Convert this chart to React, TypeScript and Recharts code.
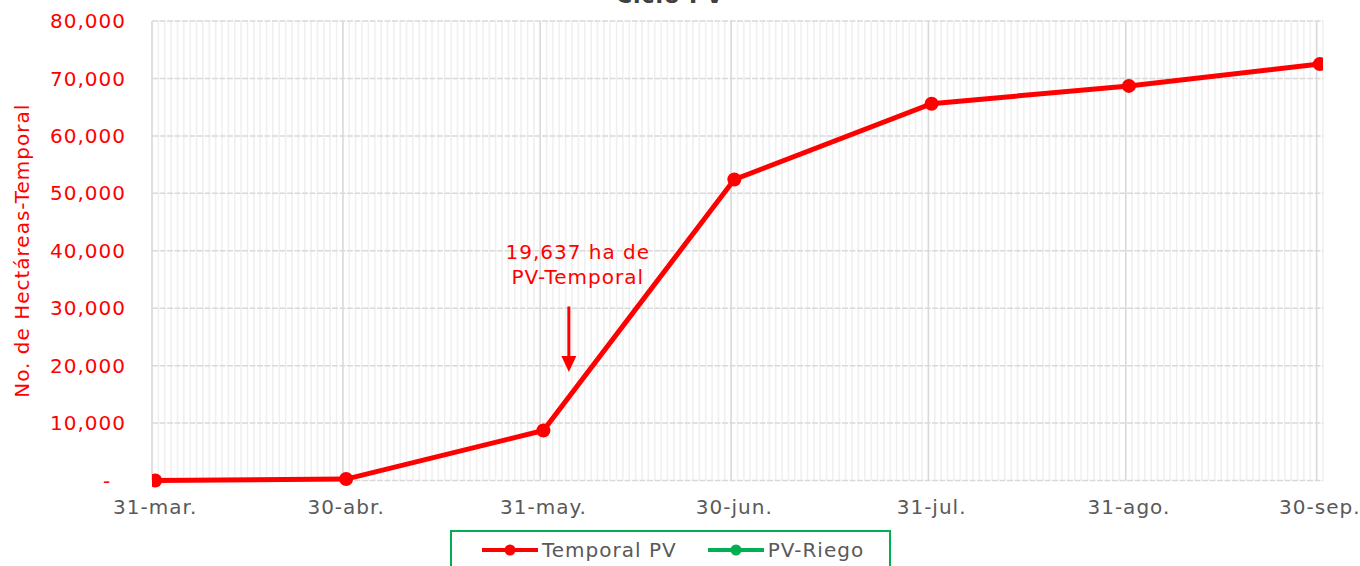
import React from 'react';
import {
  LineChart, Line, XAxis, YAxis, CartesianGrid, Legend, ReferenceLine, ReferenceDot,
} from 'recharts';

// Days counted from 31-mar.
const days = [0, 30, 61, 91, 122, 153, 183];
const dateLabels = ['31-mar.', '30-abr.', '31-may.', '30-jun.', '31-jul.', '31-ago.', '30-sep.'];
const temporalPV = [0, 250, 8700, 52400, 65600, 68700, 72500];
const pvRiego: (number | null)[] = [null, null, null, null, null, null, null];
const yTicks = [0, 10000, 20000, 30000, 40000, 50000, 60000, 70000, 80000];
const xDomain: [number, number] = [-0.5, 183.5];
const majorLines = days.map((d) => d - 0.5);
const minorLines = Array.from({ length: 185 }, (_, i) => i - 0.5);

const seriesNames = ['Temporal PV', 'PV-Riego'];
const annotationLines = ['19,637 ha de', 'PV-Temporal'];
const annotationDay = 65;
const annotationTextDay = 66.4;
const annotationTextValue = 37700;
const arrowTop = 30300;
const arrowShaftEnd = 21500;
const arrowTip = 18900;

const RED = '#ff0000';
const GREEN = '#00b050';
const GRAY_TEXT = '#595959';

const data = days.map((d, i) => ({
  day: d,
  temporal: temporalPV[i],
  riego: pvRiego[i],
}));

const fmtY = (v: number) => (v === 0 ? '-\u00A0\u00A0' : v.toLocaleString('en-US'));
const fmtX = (v: number) => {
  const i = days.indexOf(v);
  return i >= 0 ? dateLabels[i] : '';
};

const minorGen = (props: any) => {
  const s = props?.xAxis?.scale;
  if (typeof s === 'function') return minorLines.map((d) => s(d));
  const off = props.offset;
  return minorLines.map((d) => off.left + ((d - xDomain[0]) / (xDomain[1] - xDomain[0])) * off.width);
};

const renderLegend = (props: any) => {
  const payload = [...(props.payload || [])].sort(
    (a: any, b: any) => seriesNames.indexOf(a.value) - seriesNames.indexOf(b.value),
  );
  return (
    <div
      style={{
        border: `2px solid ${GREEN}`,
        boxSizing: 'border-box',
        width: 441,
        height: 40,
        display: 'flex',
        alignItems: 'center',
        paddingLeft: 29,
        fontSize: 20,
        color: GRAY_TEXT,
        whiteSpace: 'nowrap',
      }}
    >
      {payload.map((p: any, i: number) => (
        <div key={i} style={{ display: 'flex', alignItems: 'center', marginRight: 30, flexShrink: 0 }}>
          <svg width={58} height={14} style={{ marginRight: 3 }}>
            <line x1={1} y1={7} x2={57} y2={7} stroke={p.color} strokeWidth={4} />
            <circle cx={29} cy={7} r={5.5} fill={p.color} />
          </svg>
          <span>{p.value}</span>
        </div>
      ))}
    </div>
  );
};

const ArrowHead = (props: any) => {
  const { cx, cy } = props;
  return <polygon points={`${cx - 7.5},${cy - 16} ${cx + 7.5},${cy - 16} ${cx},${cy}`} fill={RED} />;
};

const AnnotationText = (props: any) => {
  const { cx, cy } = props;
  return (
    <text x={cx} y={cy} textAnchor="middle" fill={RED} fontSize={20}>
      <tspan x={cx} dy={-5}>{annotationLines[0]}</tspan>
      <tspan x={cx} dy={25}>{annotationLines[1]}</tspan>
    </text>
  );
};

export default function App() {
  return (
    <div
      style={{
        position: 'absolute',
        left: 0,
        top: 0,
        width: 1360,
        height: 566,
        overflow: 'hidden',
        background: '#fff',
        fontFamily: '"DejaVu Sans", sans-serif',
        letterSpacing: '1px',
      }}
    >
      <LineChart
        width={1360}
        height={566}
        data={data}
        margin={{ top: 21, right: 37, left: 0, bottom: 0 }}
      >
        <text x={670} y={3} textAnchor="middle" fontSize={22} fontWeight="bold" fill="#404040">
          Ciclo PV
        </text>
        <CartesianGrid
          horizontal={false}
          vertical
          stroke="#f0f0f0"
          strokeWidth={1.6}
          verticalCoordinatesGenerator={minorGen}
        />
        <CartesianGrid vertical={false} stroke="#d9d9d9" strokeWidth={1.5} strokeDasharray="6 1.5" />
        <XAxis
          xAxisId="major"
          type="number"
          dataKey="day"
          domain={xDomain}
          ticks={majorLines}
          tickFormatter={() => ''}
          tickSize={8}
          tickLine={{ stroke: '#d9d9d9', strokeWidth: 1.5 }}
          axisLine={{ stroke: '#d9d9d9', strokeWidth: 1.5 }}
          height={0}
          allowDataOverflow
        />
        <XAxis
          type="number"
          dataKey="day"
          domain={xDomain}
          ticks={days}
          tickFormatter={fmtX}
          tickSize={0}
          tickMargin={19}
          tickLine={false}
          axisLine={false}
          tick={{ fill: GRAY_TEXT, fontSize: 20 }}
          height={45.5}
          interval={0}
          allowDataOverflow
        />
        <YAxis
          type="number"
          domain={[0, 80000]}
          ticks={yTicks}
          tickFormatter={fmtY}
          tickSize={0}
          tickMargin={26}
          tickLine={false}
          axisLine={false}
          width={152}
          interval={0}
          tick={{ fill: RED, fontSize: 20 }}
          label={{
            value: 'No. de Hectáreas-Temporal',
            angle: -90,
            position: 'insideLeft',
            offset: 22,
            fill: RED,
            fontSize: 20,
            style: { textAnchor: 'middle' },
          }}
        />
        {majorLines.map((d) => (
          <ReferenceLine key={d} x={d} stroke="#d9d9d9" strokeWidth={1.5} />
        ))}
        <Legend verticalAlign="bottom" content={renderLegend} wrapperStyle={{ position: 'absolute', left: 450, top: 530, bottom: 'auto', width: 441, height: 40 }} />
        <ReferenceLine
          segment={[{ x: annotationDay, y: arrowTop }, { x: annotationDay, y: arrowShaftEnd }]}
          stroke={RED}
          strokeWidth={3}
        />
        <ReferenceDot x={annotationDay} y={arrowTip} r={0} shape={ArrowHead} />
        <ReferenceDot x={annotationTextDay} y={annotationTextValue} r={0} shape={AnnotationText} />
        <Line
          name={seriesNames[0]}
          dataKey="temporal"
          stroke={RED}
          strokeWidth={5}
          dot={{ r: 7, fill: RED, stroke: RED, strokeWidth: 0 }}
          activeDot={false}
          isAnimationActive={false}
        />
        <Line
          name={seriesNames[1]}
          dataKey="riego"
          stroke={GREEN}
          strokeWidth={5}
          dot={{ r: 7, fill: GREEN, stroke: GREEN, strokeWidth: 0 }}
          activeDot={false}
          isAnimationActive={false}
        />
      </LineChart>
    </div>
  );
}
